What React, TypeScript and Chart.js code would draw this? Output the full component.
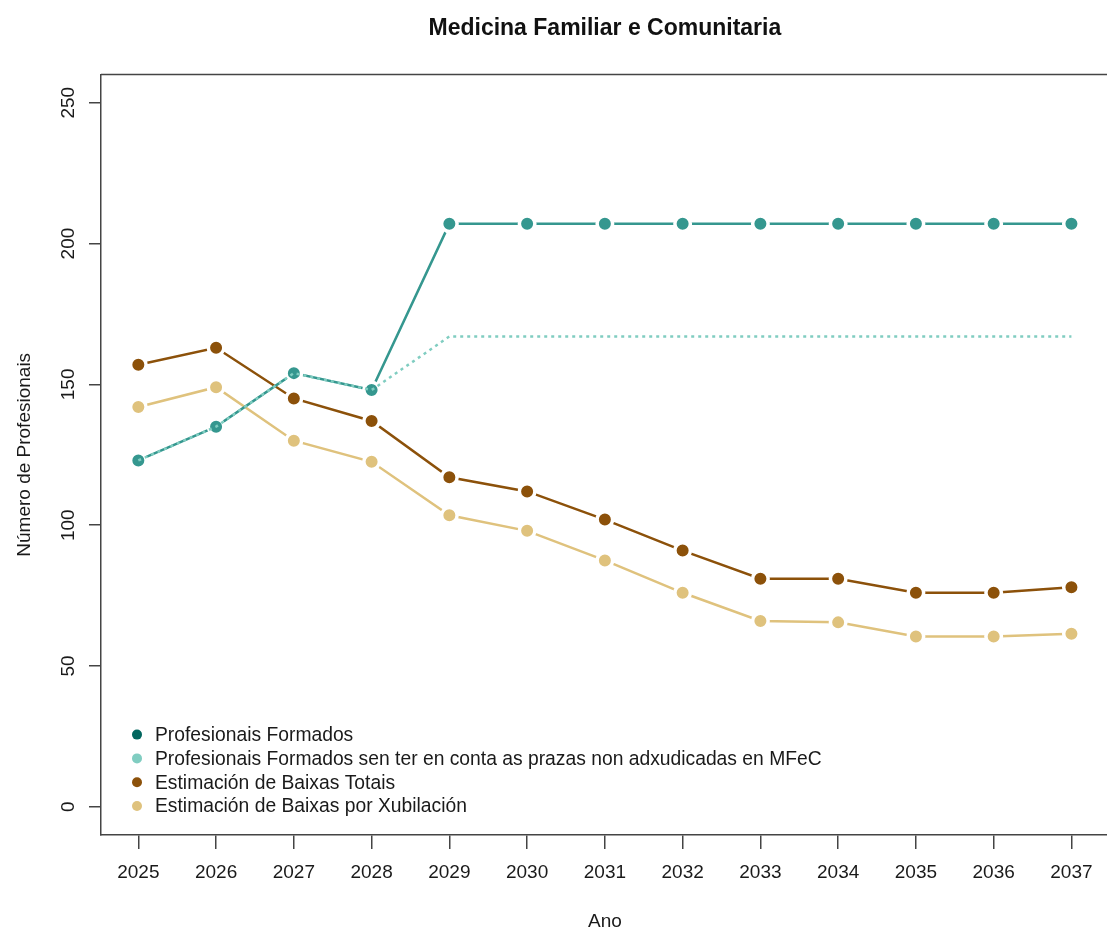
import { useEffect, useRef } from "react";
import { Chart, registerables } from "chart.js";

Chart.register(...registerables);

const chartTitle = "Medicina Familiar e Comunitaria";
const xTitle = "Ano";
const yTitle = "Número de Profesionais";

const years = [2025, 2026, 2027, 2028, 2029, 2030, 2031, 2032, 2033, 2034, 2035, 2036, 2037];
const yTicks = [0, 50, 100, 150, 200, 250];

const seriesLabels = [
  "Profesionais Formados",
  "Profesionais Formados sen ter en conta as prazas non adxudicadas en MFeC",
  "Estimación de Baixas Totais",
  "Estimación de Baixas por Xubilación",
];

const formados = [123, 135, 154, 148, 207, 207, 207, 207, 207, 207, 207, 207, 207];
const formadosSenNonAdx = [123, 135, 154, 148, 167, 167, 167, 167, 167, 167, 167, 167, 167];
const baixasTotais = [157, 163, 145, 137, 117, 112, 102, 91, 81, 81, 76, 76, 78];
const baixasXubilacion = [142, 149, 130, 122.5, 103.5, 98, 87.5, 76, 66, 65.5, 60.5, 60.5, 61.5];

const lineColors = ["#35978f", "#80cdc1", "#8c510a", "#dfc27d"];
const legendColors = ["#01665e", "#80cdc1", "#8c510a", "#dfc27d"];

const FONT = '"Liberation Sans", Arial, Helvetica, sans-serif';
const AXIS_COLOR = "#444444";
const TEXT_COLOR = "#1a1a1a";

const rLegendPlugin = {
  id: "rLegend",
  afterDraw(chart: any) {
    const { ctx, chartArea } = chart;
    ctx.save();
    // top border of the plot box
    ctx.strokeStyle = AXIS_COLOR;
    ctx.lineWidth = 1.5;
    ctx.beginPath();
    ctx.moveTo(chartArea.left, chartArea.top);
    ctx.lineTo(chartArea.right, chartArea.top);
    ctx.stroke();
    // legend
    ctx.font = `19.3px ${FONT}`;
    ctx.textBaseline = "middle";
    ctx.textAlign = "left";
    const x0 = chartArea.left + 36;
    const rowH = 23.8;
    const yLast = chartArea.bottom - 29;
    seriesLabels.forEach((label, i) => {
      const y = yLast - (seriesLabels.length - 1 - i) * rowH;
      ctx.fillStyle = legendColors[i];
      ctx.beginPath();
      ctx.arc(x0, y, 5, 0, Math.PI * 2);
      ctx.fill();
      ctx.fillStyle = TEXT_COLOR;
      ctx.fillText(label, x0 + 18, y + 1);
    });
    ctx.restore();
  },
};

export default function App() {
  const canvasRef = useRef<HTMLCanvasElement | null>(null);

  useEffect(() => {
    if (!canvasRef.current) return;
    Chart.defaults.font.family = FONT;
    Chart.defaults.color = TEXT_COLOR;

    const toPoints = (arr: number[]) => arr.map((v, i) => ({ x: years[i], y: v }));

    const pointStyle = (color: string) => ({
      pointRadius: 7.75,
      pointBorderWidth: 3.5,
      pointBorderColor: "#ffffff",
      pointBackgroundColor: color,
    });

    const chart = new Chart(canvasRef.current, {
      type: "line",
      data: {
        datasets: [
          {
            label: seriesLabels[0],
            data: toPoints(formados),
            borderColor: lineColors[0],
            backgroundColor: lineColors[0],
            borderWidth: 2.5,
            ...pointStyle(lineColors[0]),
            order: 2,
          },
          {
            label: seriesLabels[1],
            data: toPoints(formadosSenNonAdx),
            borderColor: lineColors[1],
            backgroundColor: lineColors[1],
            borderWidth: 2.5,
            borderDash: [3, 4],
            pointRadius: 0,
            order: 1,
          },
          {
            label: seriesLabels[2],
            data: toPoints(baixasTotais),
            borderColor: lineColors[2],
            backgroundColor: lineColors[2],
            borderWidth: 2.5,
            ...pointStyle(lineColors[2]),
            order: 3,
          },
          {
            label: seriesLabels[3],
            data: toPoints(baixasXubilacion),
            borderColor: lineColors[3],
            backgroundColor: lineColors[3],
            borderWidth: 2.5,
            ...pointStyle(lineColors[3]),
            order: 4,
          },
        ],
      },
      options: {
        animation: false,
        responsive: false,
        layout: { padding: 0 },
        plugins: {
          legend: { display: false },
          tooltip: { enabled: false },
          title: {
            display: true,
            text: chartTitle,
            fullSize: false,
            color: "#111111",
            font: { size: 23, weight: "bold", family: FONT },
            padding: { top: 15, bottom: 32 },
          },
        },
        scales: {
          x: {
            type: "linear",
            min: 2024.52,
            max: 2037.48,
            afterBuildTicks: (scale: any) => {
              scale.ticks = years.map((v) => ({ value: v }));
            },
            afterFit: (scale: any) => {
              scale.height = 96;
            },
            ticks: {
              callback: (v: any) => String(v),
              font: { size: 19, family: FONT },
              color: TEXT_COLOR,
              padding: 12,
              maxRotation: 0,
              autoSkip: false,
            },
            grid: {
              display: true,
              drawOnChartArea: false,
              drawTicks: true,
              tickLength: 14,
              color: AXIS_COLOR,
              lineWidth: 1.5,
            },
            border: { display: true, color: AXIS_COLOR, width: 1.5 },
            title: {
              display: true,
              text: xTitle,
              color: TEXT_COLOR,
              font: { size: 19, family: FONT, lineHeight: 1 },
              padding: { top: 0, bottom: 0 },
            },
          },
          y: {
            type: "linear",
            min: -10,
            max: 260,
            afterBuildTicks: (scale: any) => {
              scale.ticks = yTicks.map((v) => ({ value: v }));
            },
            afterFit: (scale: any) => {
              scale.width = 101;
            },
            ticks: {
              callback: (v: any) => String(v),
              font: { size: 19, family: FONT },
              color: TEXT_COLOR,
              padding: 4,
              minRotation: 90,
              maxRotation: 90,
              crossAlign: "center",
              autoSkip: false,
            },
            grid: {
              display: true,
              drawOnChartArea: false,
              drawTicks: true,
              tickLength: 12,
              color: AXIS_COLOR,
              lineWidth: 1.5,
            },
            border: { display: true, color: AXIS_COLOR, width: 1.5 },
            title: {
              display: true,
              text: yTitle,
              color: TEXT_COLOR,
              font: { size: 19, family: FONT },
              padding: { top: 13, bottom: 0 },
            },
          },
        },
      },
      plugins: [rLegendPlugin],
    } as any);

    return () => chart.destroy();
  }, []);

  return (
    <div
      style={{
        position: "fixed",
        left: 0,
        top: 0,
        width: 1107,
        height: 931,
        overflow: "hidden",
        background: "#ffffff",
      }}
    >
      <canvas ref={canvasRef} width={1120} height={931} style={{ display: "block" }} />
    </div>
  );
}
